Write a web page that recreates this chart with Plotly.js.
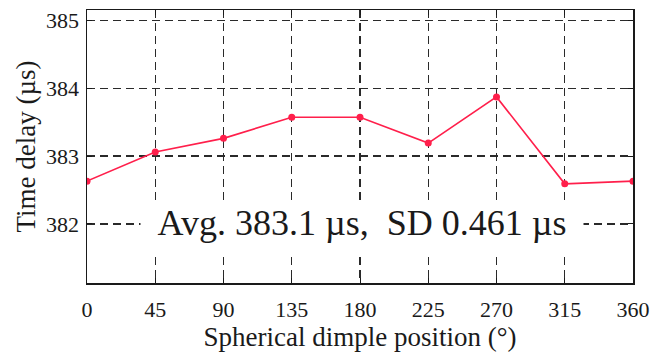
<!DOCTYPE html>
<html><head><meta charset="utf-8">
<script src="https://cdn.plot.ly/plotly-3.0.1.min.js"></script>
<style>html,body{margin:0;padding:0;background:#fff;}#plot{width:654px;height:357px;}</style>
</head><body><div id="plot"></div>
<script>
const positions = [0, 45, 90, 135, 180, 225, 270, 315, 360];
const delays = [382.63, 383.06, 383.26, 383.57, 383.57, 383.19, 383.87, 382.59, 382.63];
const xTicks = [0, 45, 90, 135, 180, 225, 270, 315, 360];
const yTicks = [382, 383, 384, 385];
const noteText = 'Avg. 383.1 \u00b5s,  SD 0.461 \u00b5s';

const font = 'Liberation Serif, Times New Roman, serif';
const axisCommon = {
  showline: true, linecolor: '#1a1a1a', linewidth: 1.5, mirror: 'ticks',
  ticks: 'inside', ticklen: 5, tickcolor: '#1a1a1a', tickwidth: 1,
  showgrid: true, gridcolor: '#2a2a2a', griddash: '8px,5px', gridwidth: 1.2,
  zeroline: false, tickfont: {family: font, size: 22, color: '#1a1a1a'}
};
Plotly.newPlot('plot', [{
  x: positions, y: delays, type: 'scatter', mode: 'lines+markers',
  line: {color: '#ff1f4b', width: 1.6},
  marker: {color: '#ff1f4b', size: 7, symbol: 'circle'}
}], {
  width: 654, height: 357,
  margin: {l: 87, r: 21, t: 10, b: 74},
  paper_bgcolor: '#fff', plot_bgcolor: '#fff',
  showlegend: false,
  xaxis: Object.assign({}, axisCommon, {
    range: [0, 360], tickvals: xTicks, ticktext: xTicks.map(String),
    ticklabelstandoff: 6,
    title: {text: 'Spherical dimple position (\u00b0)', font: {family: font, size: 27, color: '#1a1a1a'}, standoff: 6}
  }),
  yaxis: Object.assign({}, axisCommon, {
    range: [381.13, 385.15], tickvals: yTicks, ticktext: yTicks.map(String),
    ticklabelstandoff: 2,
    title: {text: 'Time delay (\u00b5s)', font: {family: font, size: 27, color: '#1a1a1a'}, standoff: 2}
  }),
  annotations: [{
    x: 181, y: 381.94, xref: 'x', yref: 'y', text: noteText, showarrow: false,
    width: 442, height: 50, valign: 'top',
    font: {family: font, size: 36, color: '#1a1a1a'}, bgcolor: '#fff', borderpad: 0
  }]
}, {displayModeBar: false, staticPlot: true});
</script></body></html>
